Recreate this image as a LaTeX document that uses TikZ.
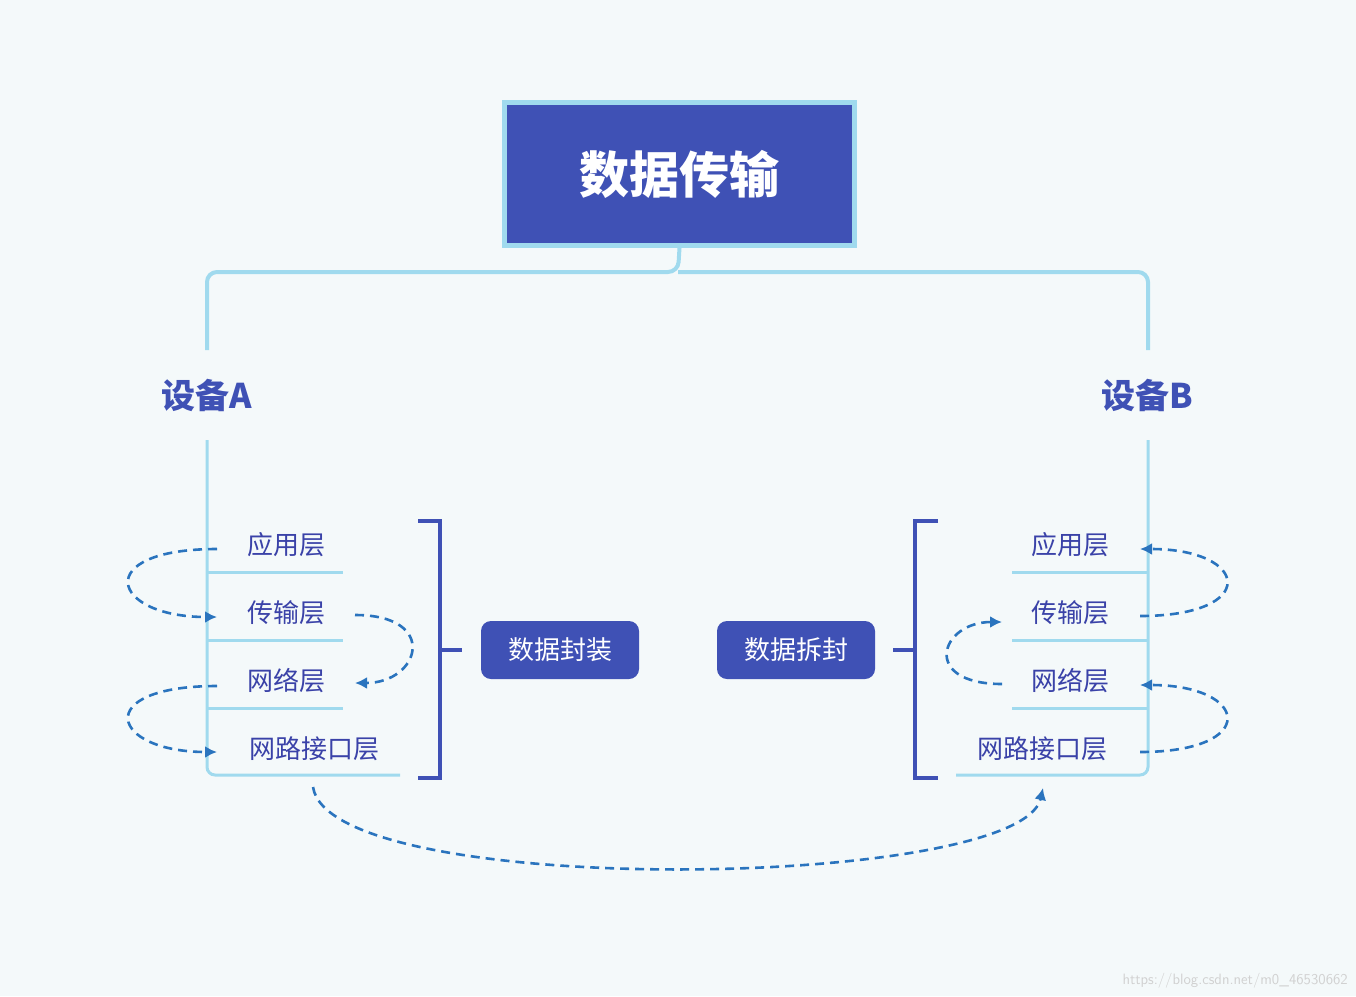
\documentclass[tikz,border=0pt]{standalone}
\usepackage{fontspec}
\setmainfont{Noto Sans CJK SC}
\usetikzlibrary{arrows.meta}
\definecolor{bg}{HTML}{F4F9FA}
\definecolor{ind}{HTML}{3F51B5}
\definecolor{lb}{HTML}{A0DAEE}
\definecolor{arr}{HTML}{2A74BE}
\definecolor{txt}{HTML}{3A42A8}
\begin{document}
\begin{tikzpicture}[x=1pt,y=-1pt,
  tree/.style={lb,line width=4pt,rounded corners=10pt},
  sub/.style={lb,line width=3pt,rounded corners=8pt},
  brk/.style={ind,line width=4pt},
  lay/.style={text=txt,font=\fontsize{26}{28}\selectfont,inner sep=0pt},
  dev/.style={text=ind,font=\fontsize{34}{36}\selectfont\bfseries,inner sep=0pt},
  pill/.style={fill=ind,text=white,rounded corners=10pt,minimum width=158pt,minimum height=58pt,font=\fontsize{26}{28}\selectfont},
  da/.style={arr,line width=2.6pt,dash pattern=on 9pt off 6pt,-{Latex[length=12pt,width=12pt]}}]
\fill[bg] (0,0) rectangle (1356,996);
\useasboundingbox (0,0) rectangle (1356,996);
\node[draw=lb,line width=5pt,fill=ind,minimum width=350pt,minimum height=143pt,text=white,font=\fontsize{50}{52}\selectfont\bfseries] (title) at (679.5,174) {数据传输};
\coordinate (tl) at (207,350);\coordinate (tr) at (1148,350);
\draw[tree] (title.south) -- (678,272) -- (207,272) -- (tl);
\draw[tree] (678,272) -- (1148,272) -- (tr);
\node[dev] (A) at (207,395) {设备A};
\node[dev] (B) at (1147,395) {设备B};
% left
\draw[sub] (207,440) -- (207,775) -- (400,775);
\foreach \y in {572,640,708}{\draw[lb,line width=3pt] (207,\y) -- (343,\y);}
\node[lay] (a1) at (286,545) {应用层};
\node[lay] (a2) at (286,613) {传输层};
\node[lay] (a3) at (286,681) {网络层};
\node[lay] (a4) at (314,749) {网路接口层};
% right
\draw[sub] (1148,440) -- (1148,775) -- (956,775);
\foreach \y in {572,640,708}{\draw[lb,line width=3pt] (1012,\y) -- (1148,\y);}
\node[lay] (b1) at (1070,545) {应用层};
\node[lay] (b2) at (1070,613) {传输层};
\node[lay] (b3) at (1070,681) {网络层};
\node[lay] (b4) at (1042,749) {网路接口层};
% brackets
\draw[brk] (418,521) -- (440,521) -- (440,778) -- (418,778);
\draw[brk] (440,650) -- (462,650);
\draw[brk] (938,521) -- (915,521) -- (915,778) -- (938,778);
\draw[brk] (915,650) -- (893,650);
\node[pill] (p1) at (560,650) {数据封装};
\node[pill] (p2) at (796,650) {数据拆封};
% dashed arrows
\coordinate (l1) at (217,549);\coordinate (l2) at (217,617);
\coordinate (l3) at (355,615);\coordinate (l4) at (355,683);
\coordinate (l5) at (217,686);\coordinate (l6) at (217,752);
\draw[da] (l1) .. controls (90,549) and (110,617) .. (l2);
\draw[da] (l3) .. controls (440,615) and (420,683) .. (l4);
\draw[da] (l5) .. controls (90,686) and (110,752) .. (l6);
\coordinate (r1) at (1140,549);\coordinate (r2) at (1140,616);
\coordinate (r3) at (1002,622);\coordinate (r4) at (1002,684);
\coordinate (r5) at (1140,685);\coordinate (r6) at (1140,752);
\draw[da] (r2) .. controls (1260,616) and (1250,549) .. (r1);
\draw[da] (r4) .. controls (920,684) and (940,622) .. (r3);
\draw[da] (r6) .. controls (1260,752) and (1250,685) .. (r5);
\coordinate (s) at (313,787);\coordinate (e) at (1043,788);
\draw[da] (s) .. controls (330,900) and (1020,890) .. (e);
\node[text=black!18,font=\fontsize{15}{16}\selectfont\sffamily,anchor=south east,inner sep=0pt] (wm) at (1348,988) {https://blog.csdn.net/m0\_46530662};
\end{tikzpicture}
\end{document}
